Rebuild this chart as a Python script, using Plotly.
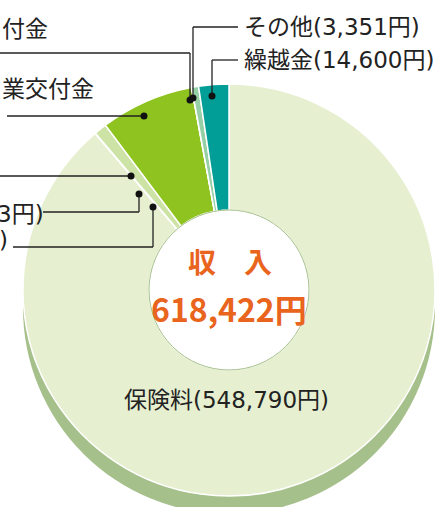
import plotly.graph_objects as go

# ---- data (yen) ----
categories = ["保険料", "小項目A", "小項目B", "小項目C", "交付金", "付金", "その他", "繰越金"]
values = [548790, 58, 143, 6100, 45300, 80, 3351, 14600]
colors = ["#e6efd0", "#cde3a5", "#cde3a5", "#cde3a5", "#8fc31f", "#8fc31f", "#95cfa5", "#009e96"]
total_label = "618,422円"

W, H = 440, 507
CX, CY, R, RH = 229, 290, 206, 80


def px(x, y):
    return x / W, 1 - y / H


fig = go.Figure()
fig.add_trace(go.Pie(
    labels=categories, values=values, sort=False, direction="clockwise", rotation=0,
    hole=RH / R, textinfo="none", hoverinfo="label+value",
    marker=dict(colors=colors, line=dict(color="white", width=1.5)),
    domain=dict(x=[(CX - R) / W, (CX + R) / W], y=[1 - (CY + R) / H, 1 - (CY - R) / H]),
))

shapes = []
# 3D rim (shadow) under the pie
sx0, sy1 = px(CX - R, CY + 18 - R)
sx1, sy0 = px(CX + R, CY + 18 + R)
shapes.append(dict(type="circle", xref="paper", yref="paper", x0=sx0, x1=sx1, y0=sy0, y1=sy1,
                   fillcolor="#a5c08a", line=dict(width=0), layer="below"))
# hole (white) with outline
hx0, hy1 = px(CX - RH, CY - RH)
hx1, hy0 = px(CX + RH, CY + RH)
shapes.append(dict(type="circle", xref="paper", yref="paper", x0=hx0, x1=hx1, y0=hy0, y1=hy1,
                   fillcolor="white", line=dict(color="#a5c08a", width=1), layer="above"))

# leader lines (pixel polylines) and dots
leaders = [
    [(0, 53), (190, 53), (190, 100)],
    [(238, 27), (193, 27), (193, 98)],
    [(238, 60), (212, 60), (212, 96)],
    [(7, 116), (144, 116)],
    [(0, 176), (131, 176)],
    [(43, 212), (139, 212), (139, 194)],
    [(13, 247), (153, 247), (153, 207)],
]
for pts in leaders:
    for (a, b) in zip(pts[:-1], pts[1:]):
        x0, y0 = px(*a)
        x1, y1 = px(*b)
        shapes.append(dict(type="line", xref="paper", yref="paper", x0=x0, y0=y0, x1=x1, y1=y1,
                           line=dict(color="#222222", width=1.3)))
    ex, ey = pts[-1]
    d0x, d0y = px(ex - 3.5, ey + 3.5)
    d1x, d1y = px(ex + 3.5, ey - 3.5)
    shapes.append(dict(type="circle", xref="paper", yref="paper", x0=d0x, y0=d0y, x1=d1x, y1=d1y,
                       fillcolor="#111111", line=dict(width=0)))

FONT = "DejaVu Sans, Noto Sans CJK JP"
BOLD_FONT = "Noto Sans CJK JP"
ann = []


def label(text, x, y, size=23, color="#222222", anchor="left", bold=False, family=FONT):
    ax, ay = px(x, y)
    t = f"<b>{text}</b>" if bold else text
    ann.append(dict(text=t, x=ax, y=ay, xref="paper", yref="paper", xanchor=anchor, yanchor="middle",
                    showarrow=False, font=dict(family=family, size=size, color=color)))


label("付金", 0, 29)
label("業交付金", 0, 89)
label("3円)", -5, 214)
label(")", -3, 240)
label("その他(3,351円)", 242, 27)
label("繰越金(14,600円)", 242, 60)
label("保険料(548,790円)", 227, 400, anchor="center")
label("収　入", 230, 261, size=28, color="#e9641d", anchor="center", bold=True, family=BOLD_FONT)
label(total_label, 229, 308, size=32, color="#e9641d", anchor="center", bold=True, family=BOLD_FONT)

fig.update_layout(width=W, height=H, margin=dict(l=0, r=0, t=0, b=0),
                  paper_bgcolor="white", plot_bgcolor="white", showlegend=False,
                  shapes=shapes, annotations=ann)
fig.write_html("out.html", config={"displayModeBar": False},
               post_script="document.body.style.margin='0';document.body.style.overflow='hidden';")
